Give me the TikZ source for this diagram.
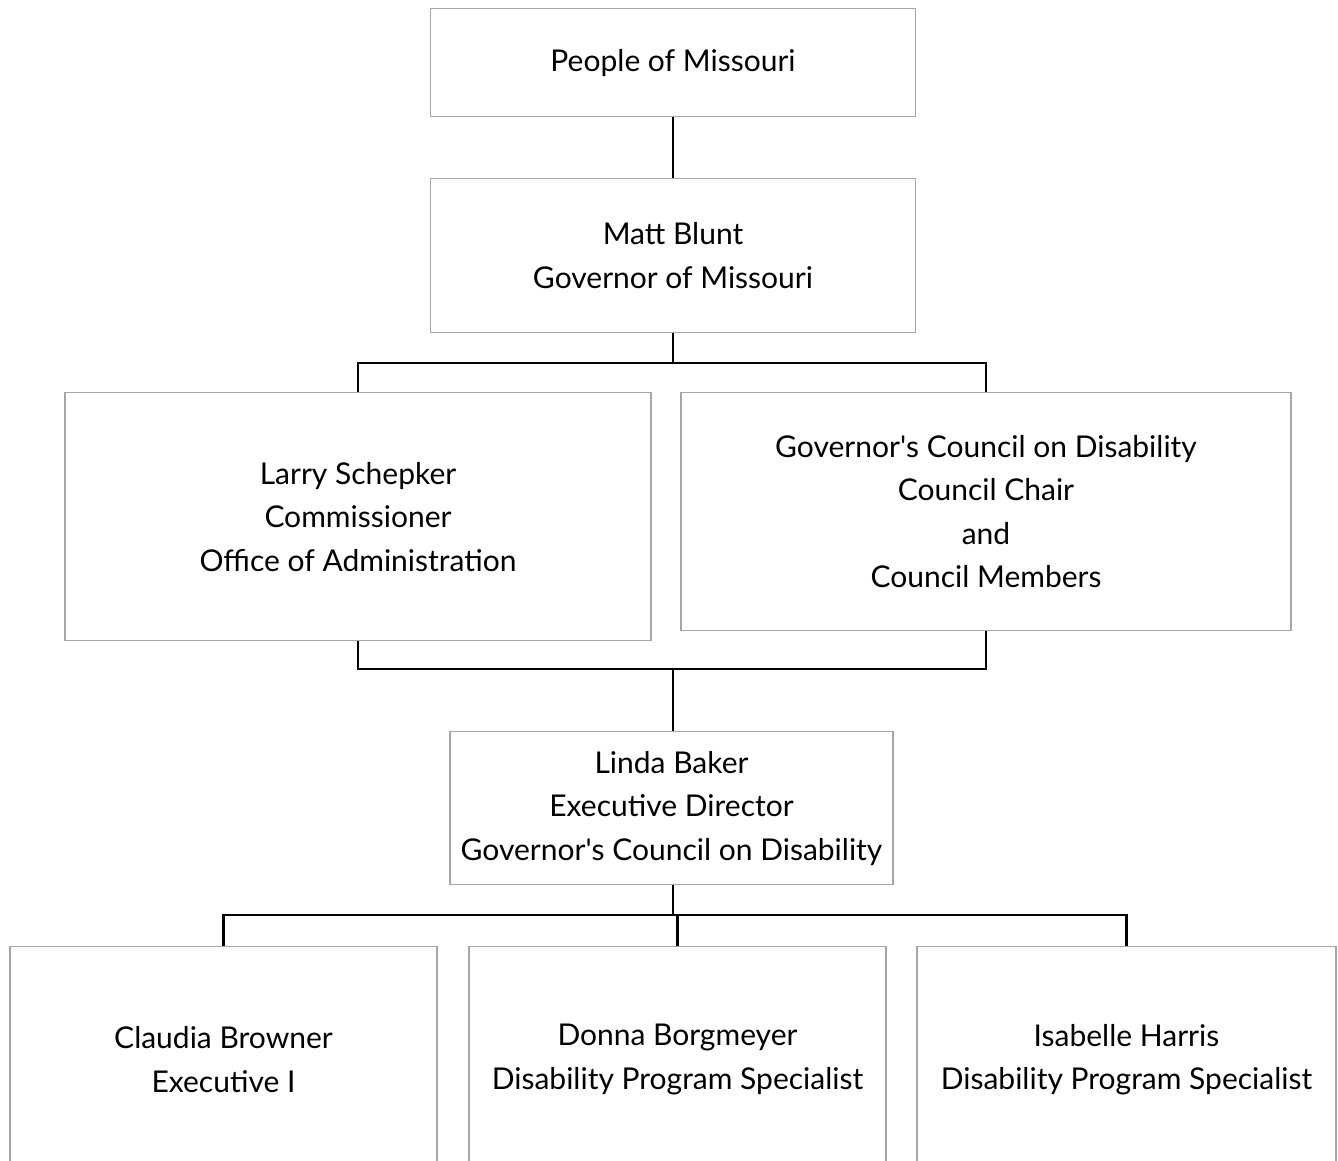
\documentclass[tikz,border=0pt]{standalone}
\usepackage{fontspec}
\setmainfont{Lato}
\usetikzlibrary{calc}

\begin{document}
\begin{tikzpicture}[x=1pt, y=-1pt,
    box/.style={draw=black!35, line width=1.4pt, inner sep=0pt, anchor=north,
      align=center, font=\fontsize{30}{43.5}\selectfont},
    link/.style={draw=black, line width=2.4pt}]
    % --- Page frame ---
    \clip (0,0) rectangle (1338,1161);
    \fill[white] (0,0) rectangle (1338,1161);

    % --- Top of the chart ---
    \node[box, minimum width=485, minimum height=108] (people) at (673,8)
      {People of Missouri};
    \node[box, minimum width=485, minimum height=154] (gov) at (673,178)
      {Matt Blunt\\Governor of Missouri};

    % --- Second row ---
    \node[box, minimum width=586, minimum height=248] (comm) at (358,392)
      {Larry Schepker\\Commissioner\\Office of Administration};
    \node[box, minimum width=610, minimum height=238] (council) at (986,392)
      {Governor\textquotesingle s Council on Disability\\Council Chair\\and\\Council Members};

    % --- Director ---
    \node[box, minimum width=443, minimum height=153] (linda) at (671.5,731)
      {Linda Baker\\Executive Director\\Governor\textquotesingle s Council on Disability};

    % --- Staff (cut off at the bottom) ---
    \node[box, minimum width=427, minimum height=226] (claudia) at (223.5,946)
      {Claudia Browner\\Executive I};
    \node[box, minimum width=417, minimum height=226] (donna) at (677.5,946)
      {Donna Borgmeyer\\Disability Program Specialist};
    \node[box, minimum width=419, minimum height=226] (isabelle) at (1126.5,946)
      {Isabelle Harris\\Disability Program Specialist};

    % --- Junctions ---
    \coordinate (j1) at (673,363);
    \coordinate (j2) at (673,669);
    \coordinate (j3) at (673,915);

    % --- Connectors ---
    \draw[link] (people.south) -- (gov.north);
    \draw[link] (gov.south) -- (j1);
    \draw[link] (comm.north) |- (j1) -| (council.north);
    \draw[link] (comm.south) |- (j2) -| (council.south);
    \draw[link] (j2) -- (j2 |- linda.north);
    \draw[link] (j3 |- linda.south) -- (j3);
    \draw[link] (claudia.north) |- (j3) -| (isabelle.north);
    \draw[link] (donna.north) -- (donna.north |- j3);
  \end{tikzpicture}
\end{document}
